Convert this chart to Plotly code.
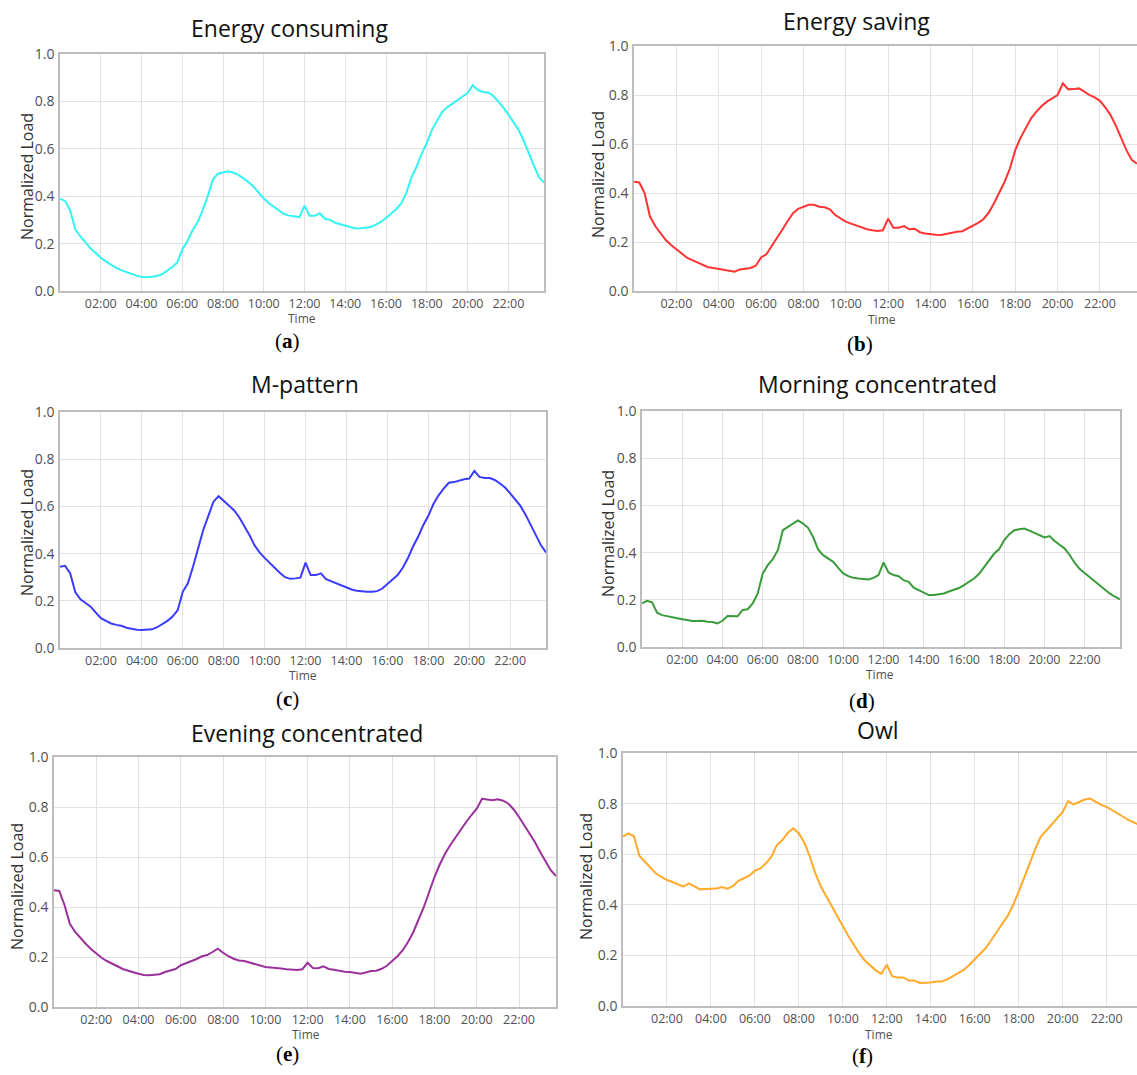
import plotly.graph_objects as go

W, H = 1137, 1075

# time of day in hours, 15-minute resolution (00:00 ... 23:45)
time_hours = [h + q / 4 for h in range(24) for q in range(4)]

tick_hours = [2, 4, 6, 8, 10, 12, 14, 16, 18, 20, 22]
tick_labels = ["02:00", "04:00", "06:00", "08:00", "10:00", "12:00",
               "14:00", "16:00", "18:00", "20:00", "22:00"]

energy_consuming = [
    0.39, 0.38, 0.34, 0.26, 0.23, 0.205, 0.18, 0.16,
    0.14, 0.125, 0.11, 0.098, 0.088, 0.08, 0.07, 0.065,
    0.06, 0.058, 0.06, 0.063, 0.07, 0.085, 0.10, 0.12,
    0.175, 0.21, 0.255, 0.29, 0.34, 0.40, 0.47, 0.495,
    0.50, 0.505, 0.50, 0.49, 0.475, 0.46, 0.44, 0.415,
    0.39, 0.37, 0.355, 0.34, 0.325, 0.318, 0.314, 0.312,
    0.36, 0.318, 0.318, 0.328, 0.305, 0.30, 0.288, 0.282,
    0.276, 0.27, 0.264, 0.265, 0.267, 0.27, 0.28, 0.292,
    0.308, 0.325, 0.345, 0.37, 0.415, 0.48, 0.525, 0.58,
    0.625, 0.68, 0.72, 0.755, 0.775, 0.79, 0.805, 0.82,
    0.835, 0.868, 0.848, 0.84, 0.838, 0.825, 0.80, 0.775,
    0.745, 0.715, 0.68, 0.635, 0.58, 0.53, 0.48, 0.457,
]

energy_saving = [
    0.446, 0.443, 0.40, 0.305, 0.265, 0.235, 0.208, 0.188,
    0.17, 0.152, 0.136, 0.126, 0.117, 0.107, 0.097, 0.094,
    0.091, 0.088, 0.084, 0.079, 0.088, 0.091, 0.094, 0.103,
    0.137, 0.15, 0.182, 0.215, 0.25, 0.285, 0.317, 0.335,
    0.344, 0.352, 0.352, 0.344, 0.342, 0.333, 0.31, 0.295,
    0.283, 0.275, 0.267, 0.26, 0.252, 0.248, 0.245, 0.248,
    0.295, 0.258, 0.258, 0.265, 0.252, 0.254, 0.24, 0.235,
    0.231, 0.23, 0.229, 0.233, 0.24, 0.242, 0.244, 0.255,
    0.267, 0.278, 0.293, 0.32, 0.358, 0.40, 0.446, 0.50,
    0.575, 0.625, 0.668, 0.705, 0.732, 0.755, 0.773, 0.788,
    0.80, 0.848, 0.823, 0.824, 0.827, 0.815, 0.80, 0.79,
    0.776, 0.75, 0.718, 0.675, 0.623, 0.575, 0.535, 0.52,
]

m_pattern = [
    0.344, 0.348, 0.316, 0.236, 0.206, 0.19, 0.175, 0.15,
    0.126, 0.115, 0.104, 0.098, 0.094, 0.086, 0.08, 0.077,
    0.076, 0.076, 0.079, 0.088, 0.10, 0.115, 0.133, 0.16,
    0.238, 0.274, 0.344, 0.42, 0.50, 0.56, 0.62, 0.643,
    0.622, 0.605, 0.584, 0.555, 0.52, 0.48, 0.436, 0.405,
    0.382, 0.36, 0.337, 0.318, 0.30, 0.293, 0.295, 0.298,
    0.362, 0.309, 0.309, 0.316, 0.292, 0.283, 0.274, 0.263,
    0.255, 0.248, 0.243, 0.24, 0.238, 0.238, 0.241, 0.252,
    0.27, 0.288, 0.309, 0.34, 0.38, 0.43, 0.471, 0.52,
    0.56, 0.61, 0.647, 0.675, 0.70, 0.703, 0.71, 0.715,
    0.718, 0.75, 0.725, 0.72, 0.72, 0.712, 0.697, 0.68,
    0.655, 0.63, 0.602, 0.565, 0.52, 0.478, 0.436, 0.405,
]

morning_concentrated = [
    0.185, 0.196, 0.189, 0.145, 0.135, 0.13, 0.126, 0.122,
    0.118, 0.114, 0.11, 0.11, 0.111, 0.107, 0.106, 0.10,
    0.111, 0.131, 0.13, 0.13, 0.157, 0.16, 0.185, 0.227,
    0.312, 0.347, 0.372, 0.41, 0.495, 0.509, 0.525, 0.536,
    0.523, 0.505, 0.467, 0.413, 0.389, 0.375, 0.361, 0.335,
    0.312, 0.30, 0.293, 0.29, 0.288, 0.286, 0.293, 0.305,
    0.358, 0.316, 0.305, 0.30, 0.283, 0.276, 0.251, 0.24,
    0.231, 0.22, 0.22, 0.224, 0.227, 0.235, 0.241, 0.25,
    0.262, 0.275, 0.29, 0.31, 0.337, 0.368, 0.396, 0.415,
    0.453, 0.478, 0.495, 0.499, 0.502, 0.493, 0.484, 0.475,
    0.464, 0.47, 0.449, 0.433, 0.417, 0.39, 0.356, 0.33,
    0.312, 0.295, 0.276, 0.258, 0.241, 0.226, 0.213, 0.202,
]

evening_concentrated = [
    0.467, 0.464, 0.407, 0.333, 0.30, 0.275, 0.253, 0.232,
    0.213, 0.197, 0.184, 0.172, 0.163, 0.152, 0.144, 0.139,
    0.133, 0.128, 0.127, 0.128, 0.131, 0.14, 0.147, 0.152,
    0.167, 0.175, 0.184, 0.192, 0.203, 0.208, 0.22, 0.233,
    0.217, 0.203, 0.193, 0.186, 0.184, 0.178, 0.171, 0.163,
    0.16, 0.158, 0.157, 0.154, 0.151, 0.149, 0.148, 0.151,
    0.177, 0.156, 0.155, 0.163, 0.152, 0.149, 0.144, 0.141,
    0.14, 0.137, 0.133, 0.138, 0.144, 0.145, 0.153, 0.165,
    0.184, 0.203, 0.227, 0.26, 0.30, 0.35, 0.40, 0.46,
    0.52, 0.57, 0.613, 0.648, 0.68, 0.712, 0.74, 0.768,
    0.793, 0.833, 0.831, 0.827, 0.831, 0.825, 0.813, 0.79,
    0.76, 0.728, 0.693, 0.66, 0.62, 0.583, 0.547, 0.524,
]

owl = [
    0.669, 0.682, 0.671, 0.593, 0.57, 0.545, 0.524, 0.51,
    0.498, 0.49, 0.482, 0.472, 0.485, 0.472, 0.461, 0.462,
    0.463, 0.464, 0.47, 0.464, 0.474, 0.495, 0.505, 0.515,
    0.535, 0.544, 0.564, 0.59, 0.636, 0.656, 0.685, 0.702,
    0.682, 0.645, 0.59, 0.524, 0.472, 0.432, 0.393, 0.352,
    0.314, 0.277, 0.242, 0.208, 0.18, 0.16, 0.141, 0.127,
    0.163, 0.117, 0.113, 0.113, 0.101, 0.101, 0.091, 0.092,
    0.093, 0.097, 0.097, 0.105, 0.117, 0.128, 0.143, 0.162,
    0.183, 0.205, 0.229, 0.26, 0.294, 0.325, 0.356, 0.40,
    0.452, 0.51, 0.564, 0.62, 0.669, 0.692, 0.715, 0.742,
    0.767, 0.81, 0.797, 0.805, 0.816, 0.82, 0.807, 0.795,
    0.787, 0.775, 0.761, 0.748, 0.735, 0.725, 0.715, 0.695,
]

titles = ["Energy consuming", "Energy saving", "M-pattern",
          "Morning concentrated", "Evening concentrated", "Owl"]
letters = ["a", "b", "c", "d", "e", "f"]
series = [energy_consuming, energy_saving, m_pattern,
          morning_concentrated, evening_concentrated, owl]
colors = ["#33F3F3", "#FF3333", "#3B3BFF", "#3A9B3A", "#9A309A", "#FFAA2A"]

# layout (pixel boxes: left, right, top, bottom)
boxes = [(60, 544, 54, 291), (634, 1137, 46, 291),
         (60, 546, 412, 648), (642, 1120, 411, 647),
         (54, 556, 757, 1007), (623, 1137, 753, 1006)]
xmax = [23.75, 23.75, 23.75, 23.75, 23.75, 23.38]
title_pos = [(289, 28), (856, 21), (305, 384), (877, 384), (307, 733), (878, 730)]
time_pos = [(302, 318), (882, 319), (303, 675), (880, 674), (306, 1034), (879, 1034)]
lab_pos = [(287, 341), (860, 344), (287, 699), (862, 701), (287, 1054), (862, 1056)]
ylab_pos = [(27, 177), (598, 175), (27, 533), (608, 534), (17, 887), (586, 877)]

FONT = "Open Sans"

def px(x):
    return x / W

def py(y):
    return 1 - y / H

fig = go.Figure()
annotations = []
layout = {}
for i in range(6):
    n = "" if i == 0 else str(i + 1)
    l, r, t, b = boxes[i]
    fig.add_trace(go.Scatter(
        x=time_hours, y=series[i], mode="lines",
        line=dict(color=colors[i], width=2),
        xaxis="x" + n, yaxis="y" + n, showlegend=False, hoverinfo="skip"))
    layout["xaxis" + n] = dict(
        domain=[px(l), px(r)], anchor="y" + n, range=[0, xmax[i]],
        tickvals=tick_hours, ticktext=tick_labels, automargin=False,
        showgrid=True, gridcolor="#e2e2e2", gridwidth=1,
        showline=True, mirror=True, linecolor="#bdbdbd", linewidth=1.5,
        zeroline=False, ticks="", ticklabelstandoff=0,
        tickfont=dict(family=FONT, size=12.5, color="#505050"),
    )
    layout["yaxis" + n] = dict(
        domain=[py(b), py(t)], anchor="x" + n, range=[0, 1],
        tickvals=[0, 0.2, 0.4, 0.6, 0.8, 1.0],
        ticktext=["0.0", "0.2", "0.4", "0.6", "0.8", "1.0"], automargin=False,
        showgrid=True, gridcolor="#e2e2e2", gridwidth=1,
        showline=True, mirror=True, linecolor="#bdbdbd", linewidth=1.5,
        zeroline=False, ticks="", ticklabelstandoff=1,
        tickfont=dict(family=FONT, size=14, color="#505050"),
    )
    annotations.append(dict(
        text=titles[i], x=px(title_pos[i][0]), y=py(title_pos[i][1]),
        xref="paper", yref="paper", showarrow=False,
        xanchor="center", yanchor="middle",
        font=dict(family=FONT, size=23, color="#111111")))
    annotations.append(dict(
        text="Time", x=px(time_pos[i][0]), y=py(time_pos[i][1]),
        xref="paper", yref="paper", showarrow=False,
        xanchor="center", yanchor="middle",
        font=dict(family=FONT, size=12, color="#505050")))
    annotations.append(dict(
        text="(<b>" + letters[i] + "</b>)", x=px(lab_pos[i][0]), y=py(lab_pos[i][1]),
        xref="paper", yref="paper", showarrow=False,
        xanchor="center", yanchor="middle",
        font=dict(family="Liberation Serif", size=21, color="#000000")))
    annotations.append(dict(
        text="Normalized Load", x=px(ylab_pos[i][0]), y=py(ylab_pos[i][1]),
        xref="paper", yref="paper", showarrow=False, textangle=-90,
        xanchor="center", yanchor="middle",
        font=dict(family=FONT, size=16, color="#333333")))

fig.update_layout(
    width=W, height=H, autosize=False,
    margin=dict(l=0, r=0, t=0, b=0, autoexpand=False),
    paper_bgcolor="white", plot_bgcolor="white",
    annotations=annotations,
    **layout,
)

fig.write_html(
    "out.html",
    config={"displayModeBar": False},
    post_script="document.body.style.margin='0';document.body.style.overflow='hidden';",
)
